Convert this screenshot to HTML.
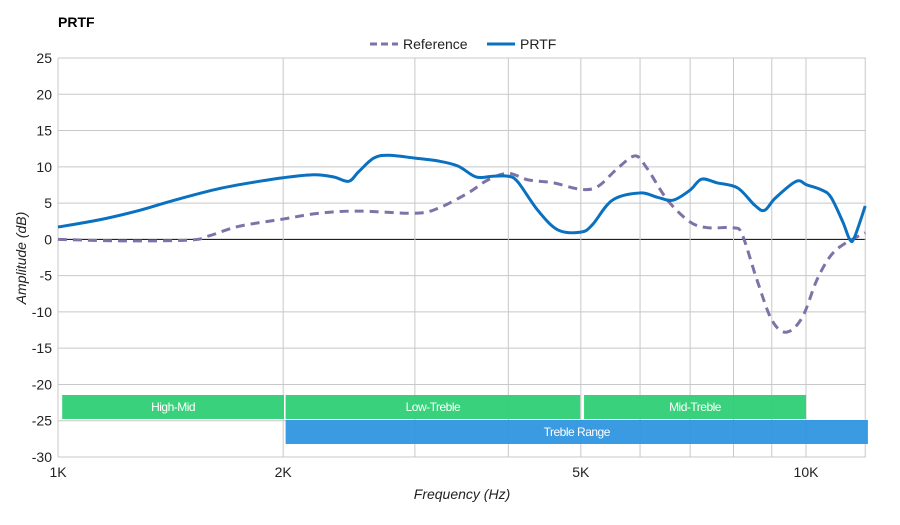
<!DOCTYPE html>
<html><head><meta charset="utf-8"><style>
body{margin:0;background:#fff;font-family:"Liberation Sans",sans-serif}
svg text{font-family:"Liberation Sans",sans-serif}
</style></head><body>
<svg id="chart" width="900" height="520" viewBox="0 0 900 520">
<text x="58" y="27" font-size="14" font-weight="bold" fill="#000">PRTF</text>
<g>
<line x1="370" y1="44" x2="398" y2="44" stroke="#7f72a8" stroke-width="3" stroke-dasharray="7,4"/>
<text x="403" y="49" font-size="14" fill="#222">Reference</text>
<line x1="487" y1="44" x2="515" y2="44" stroke="#0a70c0" stroke-width="3"/>
<text x="520" y="49" font-size="14" fill="#222">PRTF</text>
</g>
<g id="grid"></g><g id="bands"></g><g id="series"></g><g id="axes"></g>
<text x="462" y="499" font-size="14" font-style="italic" text-anchor="middle" fill="#222">Frequency (Hz)</text>
<text transform="translate(26,258) rotate(-90)" font-size="14" font-style="italic" text-anchor="middle" fill="#222">Amplitude (dB)</text>
</svg>
<script>
const yTicks=[25,20,15,10,5,0,-5,-10,-15,-20,-25,-30];
const xGrid=[1000,2000,3000,4000,5000,6000,7000,8000,9000,10000,12000];
const xTickVals=[1000,2000,5000,10000];
const xTickLabels=["1K","2K","5K","10K"];
const prtfFreq=[1000,1137,1286,1431,1643,1857,2000,2198,2337,2447,2522,2643,2768,3000,3225,3427,3622,3815,4000,4120,4380,4660,5000,5180,5510,6000,6330,6640,7000,7250,7600,8100,8540,8800,9100,9700,10030,10500,10800,11200,11440,11600,12000];
const prtfDb=[1.7,2.7,4,5.4,7,8,8.5,8.9,8.6,8,9.3,11.2,11.6,11.2,10.8,10.1,8.6,8.7,8.7,7.9,4,1.3,1,2,5.4,6.4,5.8,5.4,6.8,8.3,7.8,7.1,4.7,4,5.7,8,7.5,6.8,5.8,2.4,0,0.2,4.6];
const refFreq=[1000,1209,1499,1594,1745,2000,2232,2522,3000,3225,3534,3757,4000,4250,4590,5000,5270,5600,5910,6130,6530,7000,7400,8000,8220,8600,9000,9410,9880,10340,10800,11300,12000];
const refDb=[0,-0.2,-0.1,0.5,1.8,2.8,3.6,3.9,3.6,4.3,6.4,8.2,9.1,8.2,7.8,6.9,7.3,9.8,11.5,9.8,5.4,2.4,1.6,1.6,0.6,-5.6,-11.1,-12.8,-10.8,-5.6,-2.2,-0.5,0.9];
const bandNames=["High-Mid","Low-Treble","Mid-Treble","Treble Range"];
const bandStart=[1013,2015,5050,2015];
const bandEnd=[2005,4990,10000,12100];
const bandRow=[0,0,0,1];

const X0=58,X1=866,Y0=58,Y1=457,DEC=748;
const x=f=>X0+Math.log10(f/1000)*DEC;
const y=d=>Y0+(25-d)*(Y1-Y0)/55;
const NS="http://www.w3.org/2000/svg";
function mk(t,a,p){const e=document.createElementNS(NS,t);for(const k in a)e.setAttribute(k,a[k]);p.appendChild(e);return e;}
const grid=document.getElementById('grid'),axes=document.getElementById('axes'),bands=document.getElementById('bands'),series=document.getElementById('series');
yTicks.forEach(v=>{
 const l=mk('line',{x1:X0,x2:X1,y1:y(v),y2:y(v),stroke:v===0?'#000':'#c8c8c8','stroke-width':1},grid);
 
 
 const t=mk('text',{x:52,y:y(v)+5,'font-size':14,'text-anchor':'end',fill:'#222'},axes);
 t.textContent=v;
 
 
});
xGrid.forEach(f=>{
 const l=mk('line',{x1:x(f),x2:x(f),y1:Y0,y2:Y1,stroke:'#c8c8c8','stroke-width':1},grid);
 
 
});
mk('line',{x1:X0,x2:X0,y1:Y0,y2:Y1,stroke:'#c8c8c8'},grid);
xTickVals.forEach((f,i)=>{
 const t=mk('text',{x:x(f),y:477,'font-size':14,'text-anchor':'middle',fill:'#222'},axes);
 t.textContent=xTickLabels[i];
 
 
});
bandNames.forEach((n,i)=>{
 const top=bandRow[i]?420:395;
 const g=mk('g',{},bands);
 
 
 mk('rect',{x:x(bandStart[i]),y:top,width:x(bandEnd[i])-x(bandStart[i]),height:24,fill:bandRow[i]?'#2f95e0':'#2fcf75','fill-opacity':0.95},g);
 const t=mk('text',{x:(x(bandStart[i])+x(bandEnd[i]))/2,y:top+16,'font-size':12,'text-anchor':'middle',fill:'#fff','letter-spacing':'-0.5'},g);
 t.textContent=n;
});
function path(fs,ds){
 const p=fs.map((f,i)=>[x(f),y(ds[i])]);
 let d='M'+p[0][0]+','+p[0][1];
 for(let i=0;i<p.length-1;i++){
  const a=p[Math.max(0,i-1)],b=p[i],c=p[i+1],e=p[Math.min(p.length-1,i+2)];
  d+=` C${b[0]+(c[0]-a[0])/6},${b[1]+(c[1]-a[1])/6} ${c[0]-(e[0]-b[0])/6},${c[1]-(e[1]-b[1])/6} ${c[0]},${c[1]}`;
 }
 return d;
}
const r=mk('path',{d:path(refFreq,refDb),fill:'none',stroke:'#7f72a8','stroke-width':3,'stroke-dasharray':'9,6'},series);


const p=mk('path',{d:path(prtfFreq,prtfDb),fill:'none',stroke:'#0a70c0','stroke-width':3},series);


</script>
</body></html>
